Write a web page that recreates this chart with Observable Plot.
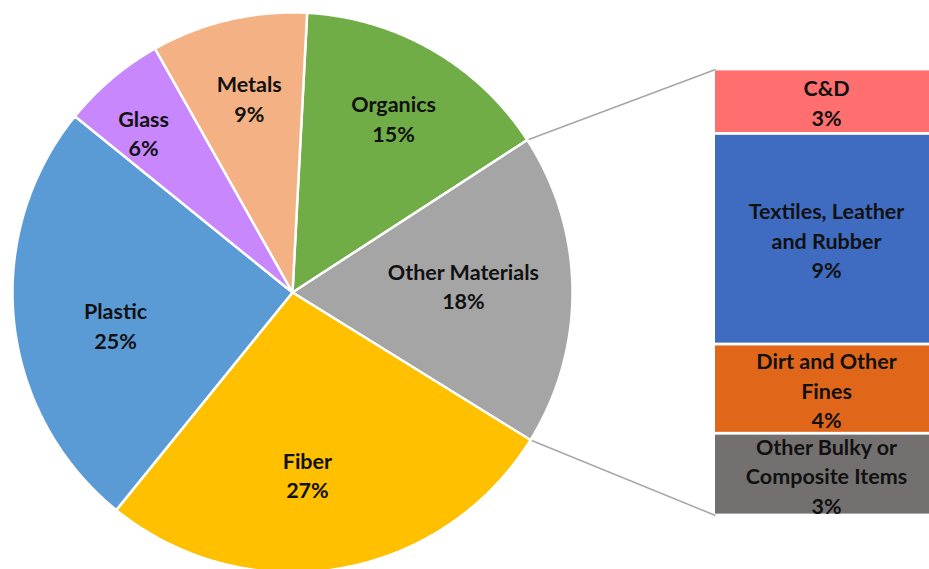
<!DOCTYPE html>
<html>
<head>
<meta charset="utf-8">
<script src="https://cdn.jsdelivr.net/npm/d3@7"></script>
<script src="https://cdn.jsdelivr.net/npm/@observablehq/plot@0.6"></script>
<style>
  html, body { margin: 0; padding: 0; background: #fff; overflow: hidden; }
  #chart svg { overflow: hidden; }
</style>
</head>
<body>
<div id="chart"></div>
<script>
// ---- Data ----
const categories = ["Organics", "Other Materials", "Fiber", "Plastic", "Glass", "Metals"];
const shares = [15, 18, 27, 25, 6, 9];
const pieColors = ["#70AD47", "#A5A5A5", "#FFC000", "#5B9BD5", "#C887FC", "#F4B183"];

const subCategories = ["C&D", "Textiles, Leather\nand Rubber", "Dirt and Other\nFines", "Other Bulky or\nComposite Items"];
const subShares = [2.6, 8.5, 3.6, 3.3];
const subLabels = ["3%", "9%", "4%", "3%"];
const subColors = ["#FF6F6F", "#3F6CC1", "#E0661A", "#757070"];

// ---- Layout (label placement, "best fit" style) ----
const labelRadius = [0.722, 0.611, 0.65, 0.642, 0.781, 0.713];
const labelAngleNudge = [0, -1.9, 4.9, -4.2, -2.7, 0.7];

const W = 929, H = 569;
const cx = 292, cy = 292, R = 280;
const startDeg = 3;
const barX1 = 715, barX2 = 937, barTop = 69, barBottom = 515;
const splitIndex = 1; // "Other Materials" is broken out into the bar

const rad = d => d * Math.PI / 180;
const arcs = d3.pie().sort(null).startAngle(rad(startDeg))
  .endAngle(rad(startDeg) + 2 * Math.PI)(shares);
const px = (a, r) => cx + r * Math.sin(a);
const py = (a, r) => cy - r * Math.cos(a);

const slices = arcs.map((a, i) => {
  const pts = [{x: cx, y: cy}];
  const n = Math.max(2, Math.ceil((a.endAngle - a.startAngle) / (Math.PI / 360)));
  for (let k = 0; k <= n; k++) {
    const t = a.startAngle + (a.endAngle - a.startAngle) * k / n;
    pts.push({x: px(t, R), y: py(t, R)});
  }
  return {name: categories[i], color: pieColors[i], pts};
});

const pieLabelData = arcs.map((a, i) => {
  const m = (a.startAngle + a.endAngle) / 2 + rad(labelAngleNudge[i]);
  const r = R * labelRadius[i];
  return {x: px(m, r), y: py(m, r), text: categories[i] + "\n" + shares[i] + "%"};
});

const yBar = d3.scaleLinear([0, d3.sum(subShares)], [barTop, barBottom]);
let acc = 0;
const barData = subShares.map((v, i) => {
  const d = {y1: yBar(acc), y2: yBar(acc + v), color: subColors[i],
             text: subCategories[i] + "\n" + subLabels[i]};
  acc += v;
  return d;
});

const sa = arcs[splitIndex];
const links = [
  {x1: px(sa.startAngle, R), y1: py(sa.startAngle, R), x2: barX1, y2: yBar(0)},
  {x1: px(sa.endAngle, R), y1: py(sa.endAngle, R), x2: barX1, y2: yBar(d3.sum(subShares))}
];

const font = "Lato, 'Open Sans', sans-serif";
const fs = 21.5, lh = 29.5 / 21.5;

const chart = Plot.plot({
  width: W, height: H, margin: 0,
  x: {domain: [0, W], range: [0, W], axis: null},
  y: {domain: [0, H], range: [0, H], axis: null},
  color: {type: "identity"},
  style: {background: "#fff"},
  marks: [
    Plot.link(links, {x1: "x1", y1: "y1", x2: "x2", y2: "y2", stroke: "#A6A6A6", strokeWidth: 1.5}),
    ...slices.map(s => Plot.line(s.pts, {x: "x", y: "y", fill: s.color, stroke: "#fff",
      strokeWidth: 2.5, strokeLinejoin: "round", curve: "linear-closed"})),
    Plot.rect(barData, {x1: () => barX1, x2: () => barX2, y1: "y1", y2: "y2", fill: "color",
      insetTop: 1.4, insetBottom: 1.4}),
    Plot.text(pieLabelData, {x: "x", y: "y", text: "text", fontSize: fs, fontWeight: "bold",
      fontFamily: font, lineHeight: lh, fill: "#111"}),
    Plot.text(barData, {x: () => (barX1 + barX2) / 2, y: d => (d.y1 + d.y2) / 2, text: "text",
      fontSize: fs, fontWeight: "bold", fontFamily: font, lineHeight: lh, fill: "#111"})
  ]
});
document.getElementById("chart").appendChild(chart);
</script>
</body>
</html>
